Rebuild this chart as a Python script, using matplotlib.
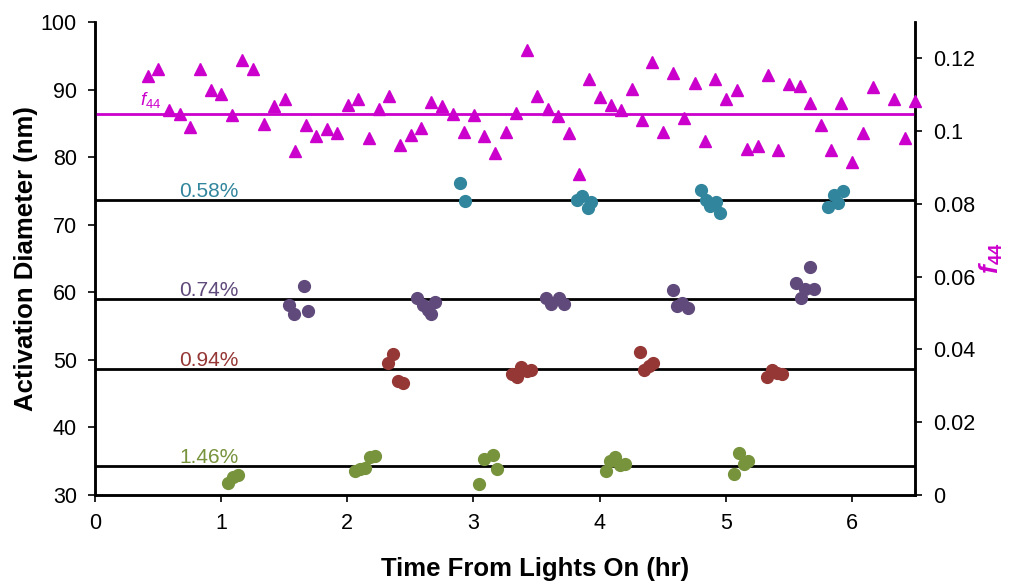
import matplotlib.pyplot as plt

plt.rcParams['font.family'] = ['Liberation Sans', 'DejaVu Sans']
plt.rcParams['mathtext.fontset'] = 'custom'
plt.rcParams['mathtext.rm'] = 'Liberation Sans'
plt.rcParams['mathtext.it'] = 'Liberation Sans:italic'
plt.rcParams['mathtext.bf'] = 'Liberation Sans:bold'
plt.rcParams['mathtext.bfit'] = 'Liberation Sans:italic:bold'

# f44 (right axis) time series
f44_time = [0.418, 0.502, 0.587, 0.672, 0.754, 0.836, 0.918, 1.002, 1.085, 1.169,
            1.254, 1.339, 1.421, 1.502, 1.587, 1.669, 1.752, 1.836, 1.921, 2.006,
            2.087, 2.169, 2.252, 2.333, 2.418, 2.502, 2.585, 2.667, 2.752, 2.836,
            2.921, 3.002, 3.087, 3.169, 3.254, 3.336, 3.421, 3.502, 3.587, 3.669,
            3.754, 3.836, 3.918, 4.002, 4.087, 4.169, 4.254, 4.336, 4.418, 4.502,
            4.585, 4.669, 4.752, 4.833, 4.918, 5.002, 5.085, 5.167, 5.252, 5.333,
            5.415, 5.500, 5.585, 5.669, 5.752, 5.833, 5.915, 6.000, 6.085, 6.167,
            6.336, 6.421, 6.500]
f44_vals = [0.1151, 0.1172, 0.1057, 0.1046, 0.1011, 0.1172, 0.1112, 0.1101, 0.1045, 0.1195,
            0.1170, 0.1021, 0.1068, 0.1087, 0.0945, 0.1018, 0.0986, 0.1005, 0.0995, 0.1071,
            0.1089, 0.0981, 0.1062, 0.1096, 0.0961, 0.0989, 0.1009, 0.1080, 0.1068, 0.1048,
            0.0998, 0.1044, 0.0986, 0.0940, 0.0998, 0.1051, 0.1222, 0.1096, 0.1062, 0.1041,
            0.0995, 0.0883, 0.1142, 0.1094, 0.1071, 0.1057, 0.1115, 0.1032, 0.1189, 0.0998,
            0.1161, 0.1037, 0.1131, 0.0973, 0.1142, 0.1089, 0.1112, 0.0950, 0.0958, 0.1153,
            0.0949, 0.1129, 0.1124, 0.1077, 0.1016, 0.0947, 0.1078, 0.0916, 0.0995, 0.1120,
            0.1087, 0.0982, 0.1083]
f44_mean = 0.1046

# activation diameters per supersaturation
ss_labels = ['0.58%', '0.74%', '0.94%', '1.46%']
ss_colors = ['#31859C', '#604A7B', '#953735', '#77933C']
ss_means = [73.7, 59.0, 48.6, 34.3]

t058 = [2.892, 2.929, 3.817, 3.857, 3.929, 3.905, 4.802, 4.841, 4.875, 4.921,
        4.955, 5.812, 5.860, 5.891, 5.926]
d058 = [76.1, 73.5, 73.7, 74.3, 73.4, 72.5, 75.2, 73.6, 72.7, 73.3,
        71.7, 72.6, 74.4, 73.2, 75.0]

t074 = [1.655, 1.540, 1.579, 1.690, 2.556, 2.603, 2.643, 2.667, 2.698, 3.571,
        3.611, 3.675, 3.714, 4.579, 4.611, 4.651, 4.698, 5.556, 5.595, 5.627,
        5.698, 5.667]
d074 = [60.9, 58.1, 56.8, 57.2, 59.2, 58.1, 57.4, 56.8, 58.6, 59.2,
        58.3, 59.2, 58.3, 60.3, 58.0, 58.4, 57.7, 61.4, 59.2, 60.5,
        60.5, 63.7]

t094 = [2.325, 2.365, 2.405, 2.444, 3.302, 3.341, 3.373, 3.421, 3.452, 4.317,
        4.349, 4.389, 4.421, 5.325, 5.365, 5.405, 5.444]
d094 = [49.5, 50.9, 46.9, 46.6, 47.9, 47.5, 48.9, 48.4, 48.5, 51.2,
        48.5, 49.1, 49.5, 47.5, 48.5, 48.1, 47.9]

t146 = [1.056, 1.095, 1.135, 2.063, 2.103, 2.143, 2.183, 2.222, 3.040, 3.087,
        3.151, 3.183, 4.048, 4.079, 4.119, 4.159, 4.198, 5.063, 5.103, 5.143,
        5.175]
d146 = [31.8, 32.7, 33.0, 33.6, 33.9, 34.0, 35.6, 35.8, 31.6, 35.3,
        35.9, 33.9, 33.6, 35.0, 35.6, 34.4, 34.6, 33.1, 36.2, 34.6,
        35.0]

times = [t058, t074, t094, t146]
diams = [d058, d074, d094, d146]

fig = plt.figure(figsize=(10.13, 5.82), dpi=100)
ax = fig.add_axes([0.0938, 0.1495, 0.8095, 0.8127])
ax2 = ax.twinx()

for t, d, c, m, lab in zip(times, diams, ss_colors, ss_means, ss_labels):
    ax.axhline(m, color='black', lw=2, zorder=2)
    ax.plot(t, d, 'o', color=c, ms=8.5, mec=c, zorder=3)
    ax.text(0.665, m + 0.45, lab, color=c, fontsize=15, va='baseline', ha='left')

ax2.axhline(f44_mean, color='#CC00CC', lw=2, zorder=2)
ax2.plot(f44_time, f44_vals, '^', color='#CC00CC', ms=8.5, zorder=3, clip_on=False)
ax2.text(0.36, 0.1072, r'$f_{44}$', color='#CC00CC', fontsize=13.5, va='baseline', ha='left')

ax.set_xlim(0, 6.5)
ax.set_ylim(30, 100)
ax2.set_ylim(0, 0.13)
ax.set_xticks(range(7))
ax.set_yticks(range(30, 101, 10))
ax2.set_yticks([0, 0.02, 0.04, 0.06, 0.08, 0.1, 0.12])
ax2.set_yticklabels(['0', '0.02', '0.04', '0.06', '0.08', '0.1', '0.12'])

for a in (ax, ax2):
    a.spines['top'].set_visible(False)
    for s in a.spines.values():
        s.set_linewidth(1.8)
    a.tick_params(direction='out', length=5, width=1.2, labelsize=15.5, pad=8)

ax.set_xlabel('Time From Lights On (hr)', fontsize=18.5, fontweight='bold')
ax.set_ylabel('Activation Diameter (nm)', fontsize=18.5, fontweight='bold')
ax.xaxis.set_label_coords(0.537, -0.131)
ax.yaxis.set_label_coords(-0.0695, 0.5)
ax2.set_ylabel(r'$\mathbfit{f}_{\mathbf{44}}$', fontsize=19, color='#CC00CC')
ax2.yaxis.set_label_coords(1.076, 0.5)

fig.savefig('out.png', dpi=100)
